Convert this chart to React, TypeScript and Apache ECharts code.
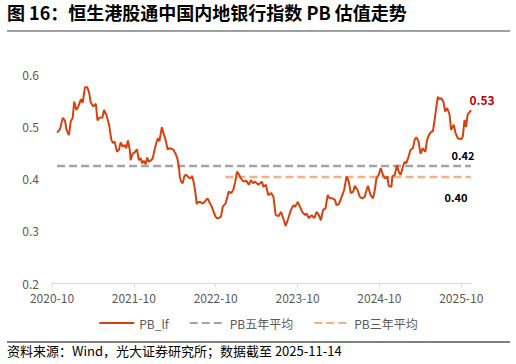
import React, { useEffect, useRef } from "react";
import * as echarts from "echarts";

const dates: string[] = [
  "2020-10-24","2020-11-06","2020-11-18","2020-11-28","2020-12-05","2020-12-16","2020-12-24",
  "2021-01-02","2021-01-09","2021-01-19","2021-01-28","2021-02-08","2021-02-15","2021-02-24",
  "2021-03-06","2021-03-15","2021-03-22","2021-04-02","2021-04-14","2021-04-21","2021-05-01",
  "2021-05-13","2021-05-20","2021-05-31","2021-06-12","2021-06-22","2021-06-29","2021-07-07",
  "2021-07-17","2021-07-26","2021-08-03","2021-08-13","2021-08-21","2021-08-28","2021-09-05",
  "2021-09-13","2021-09-17","2021-09-25","2021-10-05","2021-10-15","2021-10-24","2021-11-01",
  "2021-11-08","2021-11-15","2021-11-23","2021-11-30","2021-12-07","2021-12-18","2021-12-25",
  "2022-01-02","2022-01-10","2022-01-17","2022-01-24","2022-02-04","2022-02-13","2022-02-20",
  "2022-02-28","2022-03-05","2022-03-16","2022-03-26","2022-04-04","2022-04-12","2022-04-19",
  "2022-04-23","2022-04-29","2022-05-06","2022-05-14","2022-05-21","2022-06-03","2022-06-10",
  "2022-06-18","2022-06-25","2022-07-02","2022-07-08","2022-07-15","2022-07-24","2022-08-04",
  "2022-08-12","2022-08-19","2022-08-26","2022-09-03","2022-09-13","2022-09-22","2022-09-30",
  "2022-10-07","2022-10-14","2022-10-25","2022-11-02","2022-11-14","2022-11-21","2022-11-28",
  "2022-12-09","2022-12-19","2022-12-28","2023-01-05","2023-01-12","2023-01-23","2023-02-03",
  "2023-02-14","2023-02-25","2023-03-06","2023-03-16","2023-03-25","2023-04-09","2023-04-24",
  "2023-05-01","2023-05-12","2023-05-23","2023-06-05","2023-06-15","2023-06-25","2023-07-07",
  "2023-07-19","2023-07-29","2023-08-09","2023-08-21","2023-09-02","2023-09-13","2023-09-20",
  "2023-10-02","2023-10-12","2023-10-22","2023-11-04","2023-11-11","2023-11-21","2023-12-03",
  "2023-12-15","2023-12-26","2024-01-05","2024-01-14","2024-01-24","2024-02-04","2024-02-13",
  "2024-02-23","2024-03-04","2024-03-16","2024-03-23","2024-04-03","2024-04-15","2024-04-26",
  "2024-05-07","2024-05-17","2024-05-26","2024-06-06","2024-06-13","2024-06-25","2024-07-05",
  "2024-07-15","2024-07-27","2024-08-11","2024-08-23","2024-09-03","2024-09-11","2024-09-18",
  "2024-09-28","2024-10-07","2024-10-17","2024-10-28","2024-11-06","2024-11-12","2024-11-24",
  "2024-11-28","2024-12-09","2024-12-19","2024-12-27","2025-01-05","2025-01-15","2025-01-23",
  "2025-01-30","2025-02-09","2025-02-17","2025-02-27","2025-03-06","2025-03-14","2025-03-24",
  "2025-04-02","2025-04-12","2025-04-23","2025-05-01","2025-05-09","2025-05-20","2025-05-27",
  "2025-06-04","2025-06-11","2025-06-18","2025-06-26","2025-07-03","2025-07-13","2025-07-21",
  "2025-07-30","2025-08-10","2025-08-17","2025-08-29","2025-09-06","2025-09-16","2025-10-01",
  "2025-10-08","2025-10-16","2025-10-23","2025-10-30","2025-11-14"
];

const pbLf: number[] = [
  0.488,0.494,0.516,0.511,0.493,0.483,0.509,
  0.516,0.547,0.531,0.538,0.552,0.545,0.574,
  0.575,0.564,0.546,0.538,0.543,0.511,0.517,
  0.516,0.531,0.522,0.503,0.474,0.468,0.471,
  0.451,0.455,0.469,0.461,0.464,0.458,0.473,
  0.455,0.435,0.447,0.450,0.456,0.435,0.439,
  0.429,0.434,0.427,0.440,0.432,0.435,0.439,
  0.455,0.468,0.477,0.471,0.498,0.483,0.473,
  0.455,0.458,0.457,0.455,0.448,0.439,0.423,
  0.404,0.394,0.391,0.405,0.407,0.402,0.400,
  0.405,0.391,0.372,0.351,0.355,0.355,0.352,
  0.355,0.359,0.362,0.355,0.347,0.336,0.327,
  0.324,0.324,0.327,0.346,0.352,0.362,0.375,
  0.372,0.378,0.394,0.413,0.409,0.400,0.394,
  0.396,0.388,0.397,0.391,0.394,0.388,0.394,
  0.384,0.388,0.368,0.372,0.365,0.330,0.328,
  0.336,0.324,0.309,0.324,0.340,0.349,0.346,
  0.355,0.346,0.336,0.330,0.333,0.324,0.330,
  0.324,0.336,0.330,0.320,0.340,0.343,0.368,
  0.362,0.362,0.359,0.349,0.351,0.365,0.378,
  0.404,0.394,0.372,0.375,0.386,0.378,0.365,
  0.362,0.365,0.386,0.368,0.362,0.378,0.400,
  0.407,0.420,0.407,0.400,0.404,0.386,0.384,
  0.404,0.407,0.426,0.413,0.407,0.423,0.432,
  0.429,0.442,0.455,0.458,0.474,0.479,0.471,
  0.447,0.458,0.451,0.474,0.483,0.490,0.490,
  0.512,0.535,0.556,0.552,0.554,0.547,0.528,
  0.535,0.522,0.493,0.503,0.487,0.477,0.475,
  0.480,0.512,0.499,0.522,0.531
];

const avg5Value = 0.424;
const avg3Value = 0.403;
const avg3Start = "2022-11-14";

const seriesNames = ["PB_lf", "PB五年平均", "PB三年平均"];
const xTickLabels = ["2020-10", "2021-10", "2022-10", "2023-10", "2024-10", "2025-10"];
const yTicks = [0.2, 0.3, 0.4, 0.5, 0.6];

const title = "图 16：恒生港股通中国内地银行指数 PB 估值走势";
const source = "资料来源：Wind，光大证券研究所；数据截至 2025-11-14";

function toMonths(d: string): number {
  const [y, m, dd] = d.split("-").map(Number);
  const dim = new Date(y, m, 0).getDate();
  return (y - 2020) * 12 + (m - 10) + (dd - 1) / dim;
}

const FONT = "'Noto Sans CJK SC', 'Noto Sans', sans-serif";

export default function App() {
  const ref = useRef<HTMLDivElement>(null);
  useEffect(() => {
    if (!ref.current) return;
    const chart = echarts.init(ref.current, undefined, { renderer: "svg" });
    const xs = dates.map(toMonths);
    const first = xs[0];
    const last = xs[xs.length - 1];
    const tickVals = xTickLabels.map((_, i) => i * 12);
    const mainData = xs.map((x, i) => [x, pbLf[i]]);
    const avg5Data = [[first, avg5Value], [last, avg5Value]];
    const avg3Data = [[toMonths(avg3Start), avg3Value], [last, avg3Value]];

    chart.setOption({
      animation: false,
      textStyle: { fontFamily: FONT },
      grid: { left: 52, right: 45, top: 74, bottom: 81, containLabel: false },
      xAxis: {
        type: "value",
        min: 0,
        max: last,
        interval: 12,
        splitLine: { show: false },
        axisLine: { show: true, lineStyle: { color: "#D9D9D9", width: 1 } },
        axisTick: { show: true, customValues: tickVals, length: 4, lineStyle: { color: "#D9D9D9" } },
        axisLabel: {
          customValues: tickVals,
          color: "#595959",
          fontSize: 12,
          fontFamily: FONT,
          margin: 8,
          formatter: (v: number) => xTickLabels[Math.round(v / 12)] ?? "",
        },
      },
      yAxis: {
        type: "value",
        min: 0.2,
        max: 0.6,
        interval: 0.1,
        splitLine: { show: false },
        axisLine: { show: false },
        axisTick: { show: false },
        axisLabel: {
          color: "#595959",
          fontSize: 12,
          fontFamily: FONT,
          margin: 13,
          formatter: (v: number) => {
            const t = yTicks.find((k) => Math.abs(k - v) < 1e-6);
            return t !== undefined ? t.toFixed(1) : "";
          },
        },
      },
      legend: {
        bottom: 30,
        left: "center",
        itemWidth: 35,
        itemHeight: 10,
        itemGap: 20,
        itemStyle: { opacity: 0 },
        textStyle: { color: "#595959", fontSize: 12, fontFamily: FONT },
        data: seriesNames,
      },
      series: [
        {
          name: seriesNames[1],
          type: "line",
          symbol: "none",
          data: avg5Data,
          lineStyle: { color: "#A5A5A5", width: 2.5, type: [8, 4] },
          itemStyle: { color: "#A5A5A5" },
          endLabel: {
            show: true,
            formatter: () => avg5Value.toFixed(2),
            color: "#000",
            fontWeight: "bold",
            fontSize: 11,
            fontFamily: FONT,
            align: "center",
            verticalAlign: "middle",
            offset: [-16, -11],
          },
          z: 2,
        },
        {
          name: seriesNames[2],
          type: "line",
          symbol: "none",
          data: avg3Data,
          lineStyle: { color: "#F4B183", width: 2.5, type: [8, 4] },
          itemStyle: { color: "#F4B183" },
          endLabel: {
            show: true,
            formatter: () => avg3Value.toFixed(2),
            color: "#000",
            fontWeight: "bold",
            fontSize: 11,
            fontFamily: FONT,
            align: "center",
            verticalAlign: "middle",
            offset: [-23, 20],
          },
          z: 2,
        },
        {
          name: seriesNames[0],
          type: "line",
          symbol: "none",
          data: mainData,
          lineStyle: { color: "#D5420F", width: 2 },
          itemStyle: { color: "#D5420F" },
          endLabel: {
            show: true,
            formatter: (p: any) => Number(p.value[1]).toFixed(2),
            color: "#C00000",
            fontWeight: "bold",
            fontSize: 12,
            fontFamily: FONT,
            align: "center",
            verticalAlign: "middle",
            offset: [3, -11],
          },
          z: 3,
        },
      ],
      graphic: [
        {
          type: "text",
          left: 7,
          top: 3,
          style: { text: title, font: `bold 18px ${FONT}`, fill: "#000" },
        },
        {
          type: "line",
          shape: { x1: 7, y1: 31, x2: 510, y2: 31 },
          style: { stroke: "#7F7F7F", lineWidth: 1.5 },
        },
        {
          type: "line",
          shape: { x1: 7, y1: 342, x2: 510, y2: 342 },
          style: { stroke: "#000", lineWidth: 1 },
        },
        {
          type: "text",
          left: 7,
          top: 344,
          style: { text: source, font: `13px ${FONT}`, fill: "#000" },
        },
      ],
    });
    return () => chart.dispose();
  }, []);
  return (
    <div
      ref={ref}
      style={{ position: "fixed", left: 0, top: 0, width: 516, height: 364, background: "#fff" }}
    />
  );
}
